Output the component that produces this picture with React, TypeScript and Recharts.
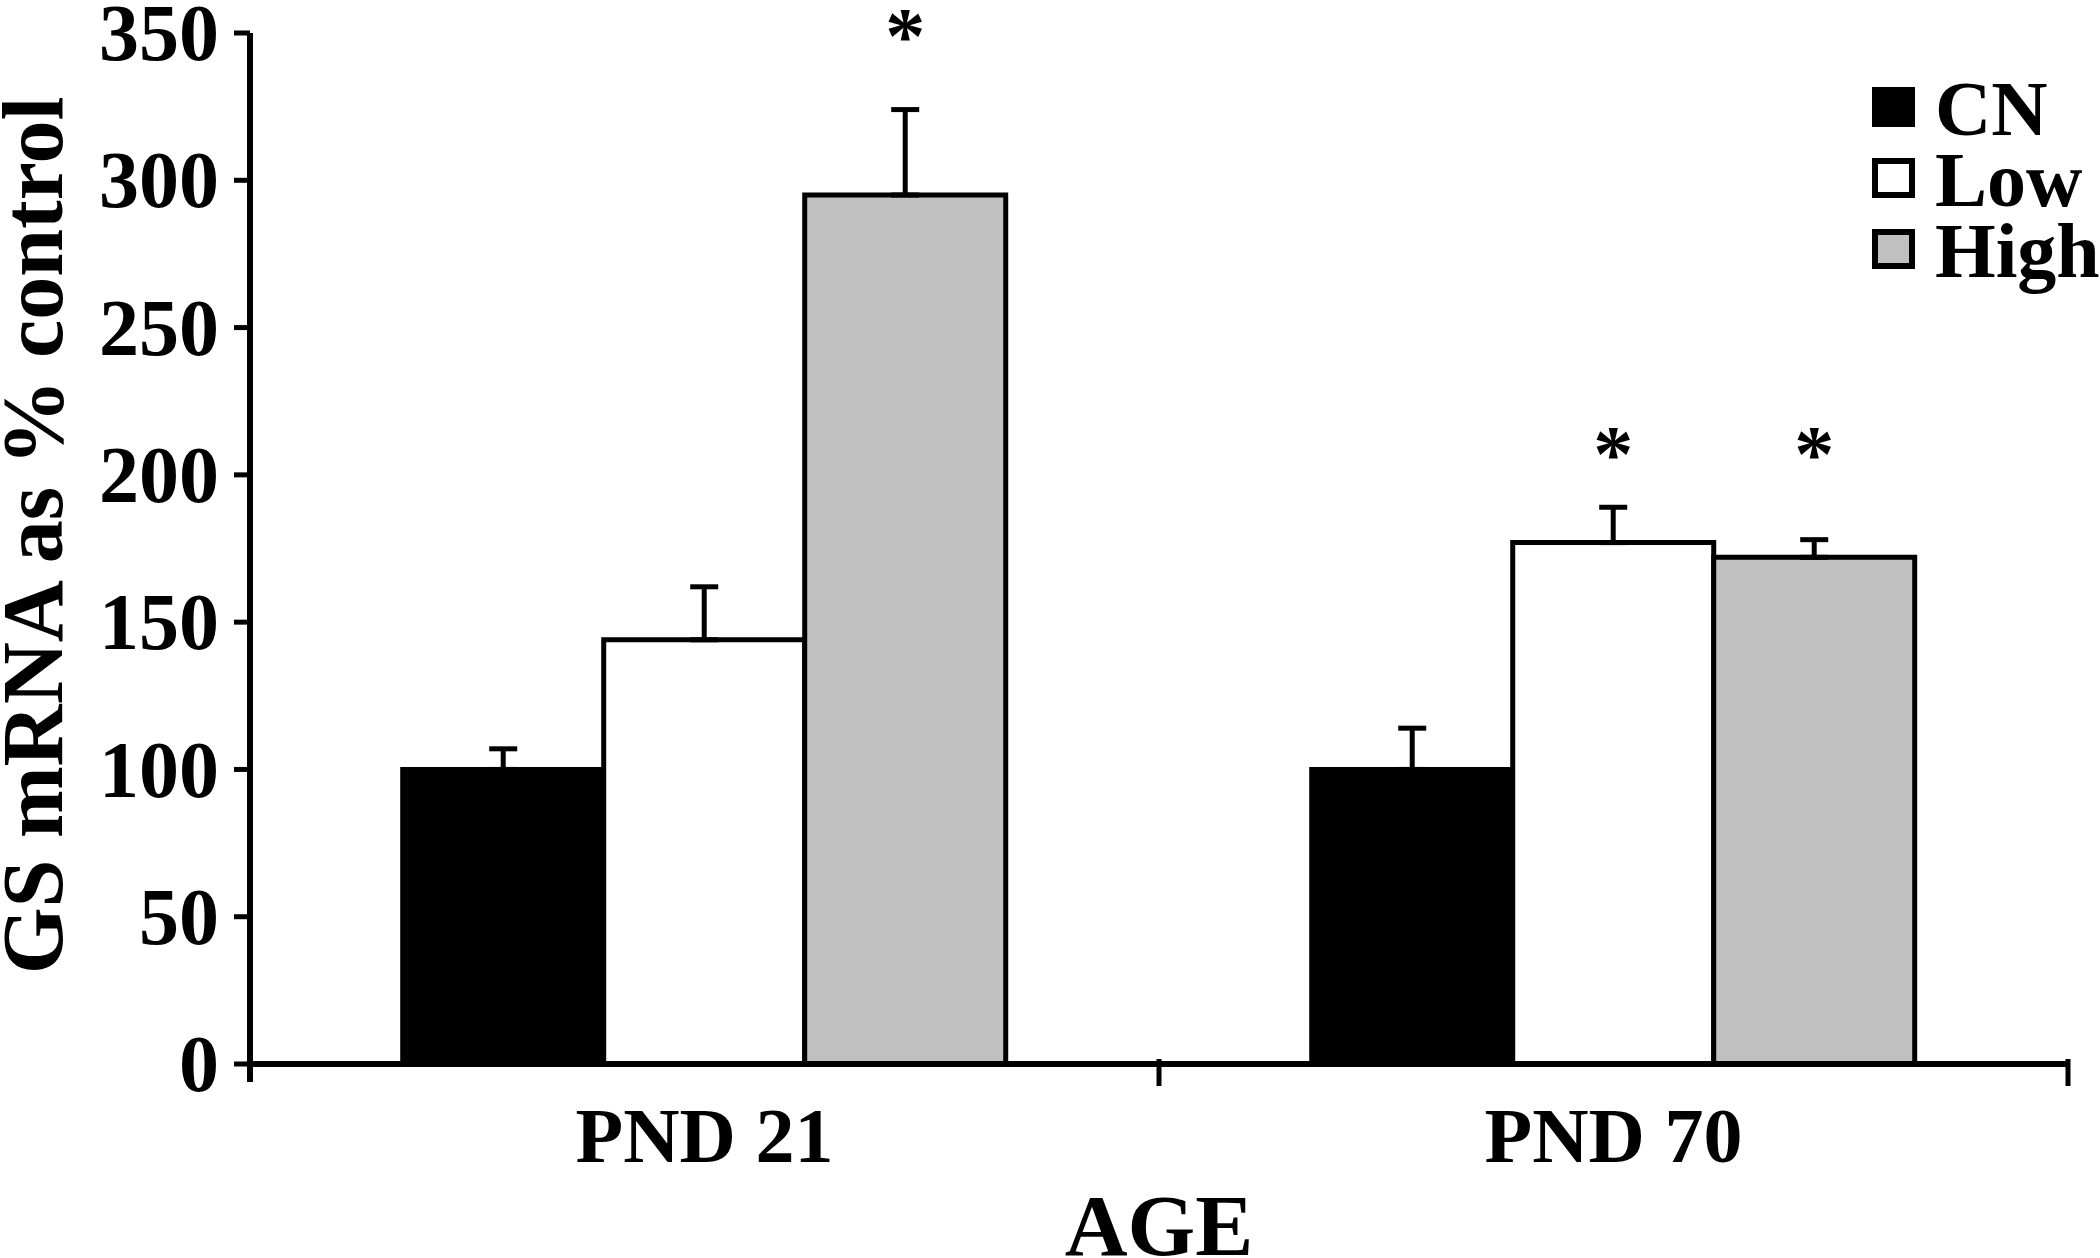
import React from 'react';
import { BarChart, Bar, XAxis, YAxis, ErrorBar, LabelList } from 'recharts';

const categories = ['PND 21', 'PND 70'];
const cnValues = [100, 100];
const cnErrors = [7, 14];
const lowValues = [144, 177];
const lowErrors = [18, 12];
const highValues = [295, 172];
const highErrors = [29, 6];
// heights (in axis units) where the significance asterisks sit
const lowStars: (number | null)[] = [null, 211];
const highStars: (number | null)[] = [353, 211];
const yTicks = [0, 50, 100, 150, 200, 250, 300, 350];

const seriesNames = ['CN', 'Low', 'High'];
const seriesColors = ['#000000', '#ffffff', '#c0c0c0'];

const FONT = '"Liberation Serif", "Times New Roman", serif';

const data = categories.map((c, i) => ({
  category: c,
  cn: cnValues[i],
  cnErr: [0, cnErrors[i]],
  low: lowValues[i],
  lowErr: [0, lowErrors[i]],
  high: highValues[i],
  highErr: [0, highErrors[i]],
  lowStar: lowStars[i] == null ? null : [lowStars[i], lowValues[i]],
  highStar: highStars[i] == null ? null : [highStars[i], highValues[i]],
}));

const W = 2100;
const H = 1258;
const Y_TICK_SIZE = 16;
const Y_TICK_MARGIN = 15;

const renderStar = (props: any) => {
  const { x, y, width, height, value } = props;
  if (!value || !Array.isArray(value)) return null;
  const [star, barVal] = value;
  if (star == null || !barVal) return null;
  const ppu = height / barVal;
  const baseY = y + height;
  const cy = baseY - star * ppu;
  const fs = 80;
  return (
    <text
      x={x + width / 2}
      y={cy + 0.48 * fs}
      textAnchor="middle"
      fontFamily={FONT}
      fontWeight="bold"
      fontSize={fs}
      fill="#000"
    >
      *
    </text>
  );
};

const XTick = (props: any) => {
  const { x, y, payload } = props;
  const half = payload && payload.offset != null ? payload.offset : 454;
  return (
    <g>
      <line x1={x + half} x2={x + half} y1={y - 5} y2={y + 22} stroke="#000" strokeWidth={5} />
      <text
        x={x}
        y={y + 98}
        textAnchor="middle"
        fontFamily={FONT}
        fontWeight="bold"
        fontSize={78}
        fill="#000"
      >
        {payload.value}
      </text>
    </g>
  );
};

const YTick = (props: any) => {
  const { x, y, payload } = props;
  const axisX = x + Y_TICK_SIZE + Y_TICK_MARGIN;
  return (
    <g>
      {payload.value === 0 ? (
        <line x1={axisX} x2={axisX} y1={y} y2={y + 18} stroke="#000" strokeWidth={6} />
      ) : null}
      <text
        x={x}
        y={y}
        dy="0.34em"
        textAnchor="end"
        fontFamily={FONT}
        fontWeight="bold"
        fontSize={80}
        fill="#000"
      >
        {payload.value}
      </text>
    </g>
  );
};

const LegendOverlay = () => (
  <svg
    width={W}
    height={H}
    style={{ position: 'absolute', left: 0, top: 0, pointerEvents: 'none' }}
  >
    {seriesNames.map((n, i) => {
      const top = 87 + 71 * i;
      return (
        <g key={n}>
          <rect
            x={1875}
            y={top + 3}
            width={37}
            height={34}
            fill={seriesColors[i]}
            stroke="#000"
            strokeWidth={6}
          />
          <text
            x={1935}
            y={top + 48}
            fontFamily={FONT}
            fontWeight="bold"
            fontSize={78}
            fill="#000"
          >
            {n}
          </text>
        </g>
      );
    })}
  </svg>
);

export default function App() {
  return (
    <div style={{ position: 'absolute', left: 0, top: 0, width: W, height: H, background: '#fff', overflow: 'hidden' }}>
      <BarChart
        width={W}
        height={H}
        data={data}
        margin={{ top: 33, right: 32, bottom: 0, left: 0 }}
        barCategoryGap="16.8%"
        barGap={0}
      >
        <XAxis
          dataKey="category"
          height={194}
          axisLine={{ stroke: '#000', strokeWidth: 6 }}
          tickLine={false}
          tickSize={0}
          tickMargin={0}
          tick={<XTick />}
          interval={0}
          label={{
            content: (p: any) => {
              const vb = p.viewBox || {};
              return (
                <text
                  x={1159}
                  y={vb.y + 191}
                  textAnchor="middle"
                  fontFamily={FONT}
                  fontWeight="bold"
                  fontSize={87}
                  fill="#000"
                >
                  AGE
                </text>
              );
            },
          }}
        />
        <YAxis
          width={250}
          domain={[0, 350]}
          ticks={yTicks}
          interval={0}
          axisLine={{ stroke: '#000', strokeWidth: 6 }}
          tickLine={{ stroke: '#000', strokeWidth: 5 }}
          tickSize={Y_TICK_SIZE}
          tickMargin={Y_TICK_MARGIN}
          tick={<YTick />}
          label={{
            content: (p: any) => {
              const vb = p.viewBox || {};
              const cx = 33;
              const cy = vb.y + vb.height / 2 - 13;
              return (
                <text
                  x={cx}
                  y={cy}
                  transform={`rotate(-90, ${cx}, ${cy})`}
                  textAnchor="middle"
                  dominantBaseline="central"
                  fontFamily={FONT}
                  fontWeight="bold"
                  fontSize={86}
                  fill="#000"
                >
                  GS mRNA as % control
                </text>
              );
            },
          }}
        />
        <Bar dataKey="cn" name="CN" fill={seriesColors[0]} stroke="#000" strokeWidth={5} isAnimationActive={false}>
          <ErrorBar dataKey="cnErr" width={14} stroke="#000" strokeWidth={5} direction="y" />
        </Bar>
        <Bar dataKey="low" name="Low" fill={seriesColors[1]} stroke="#000" strokeWidth={5} isAnimationActive={false}>
          <ErrorBar dataKey="lowErr" width={14} stroke="#000" strokeWidth={5} direction="y" />
          <LabelList dataKey="lowStar" content={renderStar} />
        </Bar>
        <Bar dataKey="high" name="High" fill={seriesColors[2]} stroke="#000" strokeWidth={5} isAnimationActive={false}>
          <ErrorBar dataKey="highErr" width={14} stroke="#000" strokeWidth={5} direction="y" />
          <LabelList dataKey="highStar" content={renderStar} />
        </Bar>
      </BarChart>
      <LegendOverlay />
    </div>
  );
}
